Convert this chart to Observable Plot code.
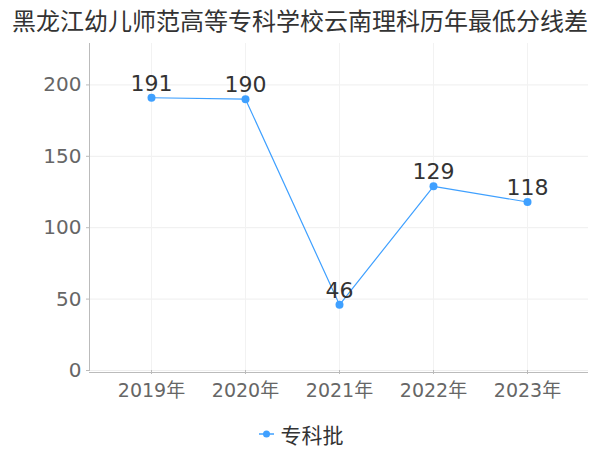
<!DOCTYPE html>
<html><head><meta charset="utf-8">
<script src="https://cdn.jsdelivr.net/npm/d3@7"></script>
<script src="https://cdn.jsdelivr.net/npm/@observablehq/plot@0.6"></script>
<style>
body{margin:0;background:#fff;font-family:"DejaVu Sans","Noto Sans CJK SC",sans-serif;}
#title{height:36px;line-height:40px;text-align:center;font-size:24px;color:#333;font-family:"Noto Sans CJK SC","DejaVu Sans",sans-serif;white-space:nowrap;}
#chart svg{display:block;}
#legend{height:32px;display:flex;justify-content:center;align-items:center;font-size:21px;color:#333;font-family:"Noto Sans CJK SC",sans-serif;}
</style></head>
<body>
<div id="title">黑龙江幼儿师范高等专科学校云南理科历年最低分线差</div>
<div id="chart"></div>
<div id="legend"><svg width="20" height="12"><line x1="2" x2="17" y1="6" y2="6" stroke="#3fa0ff" stroke-width="1.5"/><circle cx="9.5" cy="6" r="3.5" fill="#3fa0ff"/></svg><span style="margin-left:4px">专科批</span></div>
<script>
const years = ["2019年","2020年","2021年","2022年","2023年"];
const values = [191,190,46,129,118];
const yTicks = [0,50,100,150,200];
const data = years.map((y,i)=>({year:y, value:values[i]}));
const color = "#3fa0ff";
const chart = Plot.plot({
  width:600, height:382,
  marginLeft:89, marginRight:12, marginTop:7, marginBottom:48,
  style:{fontFamily:"DejaVu Sans, Noto Sans CJK SC, sans-serif", fontSize:"20px", color:"#666", background:"#fff"},
  x:{type:"point", domain:years, padding:0.638, label:null},
  y:{domain:[0,229], label:null},
  marks:[
    Plot.gridY(yTicks,{stroke:"#eee", strokeOpacity:1}),
    Plot.gridX(years,{stroke:"#f2f2f2", strokeOpacity:1}),
    Plot.axisY(yTicks,{tickSize:3, tickPadding:5, stroke:"#bbb", fontSize:20, fill:"#666"}),
    Plot.axisX(years,{tickSize:4, tickPadding:9, stroke:"#bbb", fontSize:19, fill:"#666"}),
    Plot.frame({anchor:"left", stroke:"#bbb"}),
    Plot.ruleY([0],{stroke:"#bbb", dy:2}),
    Plot.line(data,{x:"year", y:"value", stroke:color, strokeWidth:1.2}),
    Plot.dot(data,{x:"year", y:"value", fill:color, r:4}),
    Plot.text(data,{x:"year", y:"value", text:d=>String(d.value), dy:-14, fontSize:22, fill:"#333"})
  ]
});
document.getElementById("chart").appendChild(chart);
</script>
</body></html>
